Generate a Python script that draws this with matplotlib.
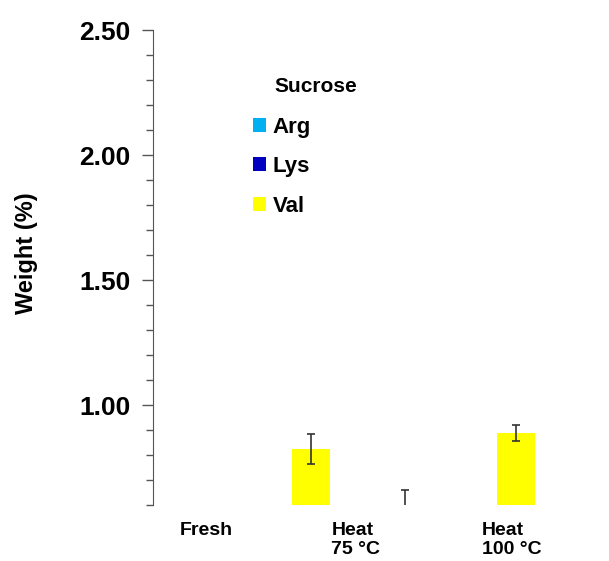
import numpy as np
import matplotlib.pyplot as plt
from matplotlib.patches import Patch
from matplotlib.ticker import MultipleLocator

plt.rcParams['font.family'] = ['Liberation Sans', 'DejaVu Sans']
plt.rcParams['font.weight'] = 'bold'

categories = ['Fresh', 'Heat\n75 °C', 'Heat\n100 °C']
series = ['Arg', 'Lys', 'Val']
colors = ['#00B0F0', '#0000C0', '#FFFF00']
# weight (%) per series, per category; values below the axis floor are not visible
arg = [np.nan, np.nan, 0.56]
arg_err = [np.nan, np.nan, 0.10]
lys = [np.nan, np.nan, np.nan]
lys_err = [np.nan, np.nan, np.nan]
val = [np.nan, 0.824, 0.888]
val_err = [np.nan, 0.060, 0.032]

group_x = np.array([-0.5, 0.5, 1.5])
label_x = [0.26, 0.99, 1.75]
offset = 0.27
width = 0.185

fig = plt.figure(figsize=(6.09, 5.61), dpi=100)
ax = fig.add_axes([0.2512, 0.0998, 0.747, 0.8467])

for i, (v, e) in enumerate([(arg, arg_err), (lys, lys_err), (val, val_err)]):
    x = group_x + (i - 1) * offset
    ax.bar(x, v, width, color=colors[i], edgecolor='none')
    ax.errorbar(x, v, yerr=e, fmt='none', ecolor='#333333', elinewidth=1.2,
                capsize=3, capthick=1.2)

ax.set_xlim(0, 2.22)
ax.set_ylim(0.6, 2.5)
ax.yaxis.set_major_locator(MultipleLocator(0.5))
ax.yaxis.set_minor_locator(MultipleLocator(0.1))
ax.yaxis.set_major_formatter(lambda v, p: f'{v:.2f}')
ax.tick_params(axis='y', which='major', length=8, width=1, color='#555555',
               labelsize=19, pad=8)
ax.tick_params(axis='y', which='minor', length=5, width=1, color='#555555')
ax.set_xticks(label_x, categories)
ax.tick_params(axis='x', length=0, labelsize=14, pad=12)
for t in ax.get_xticklabels():
    t.set_multialignment('left')

for s in ['top', 'right', 'bottom']:
    ax.spines[s].set_visible(False)
ax.spines['left'].set_color('#555555')
ax.set_ylabel('Weight (%)', fontsize=17, fontweight='bold')
ax.yaxis.set_label_coords(-0.253, 0.53)

handles = [Patch(facecolor=c, edgecolor='none') for c in colors]
ax.legend(handles, series, loc='upper left', bbox_to_anchor=(0.2, 0.836),
          frameon=False, fontsize=16, handlelength=0.6, handleheight=0.6,
          handletextpad=0.3, labelspacing=0.83, borderaxespad=0)
ax.text(0.268, 0.881, 'Sucrose', transform=ax.transAxes, fontsize=15,
        fontweight='bold', va='center', ha='left')

fig.savefig('out.png')
